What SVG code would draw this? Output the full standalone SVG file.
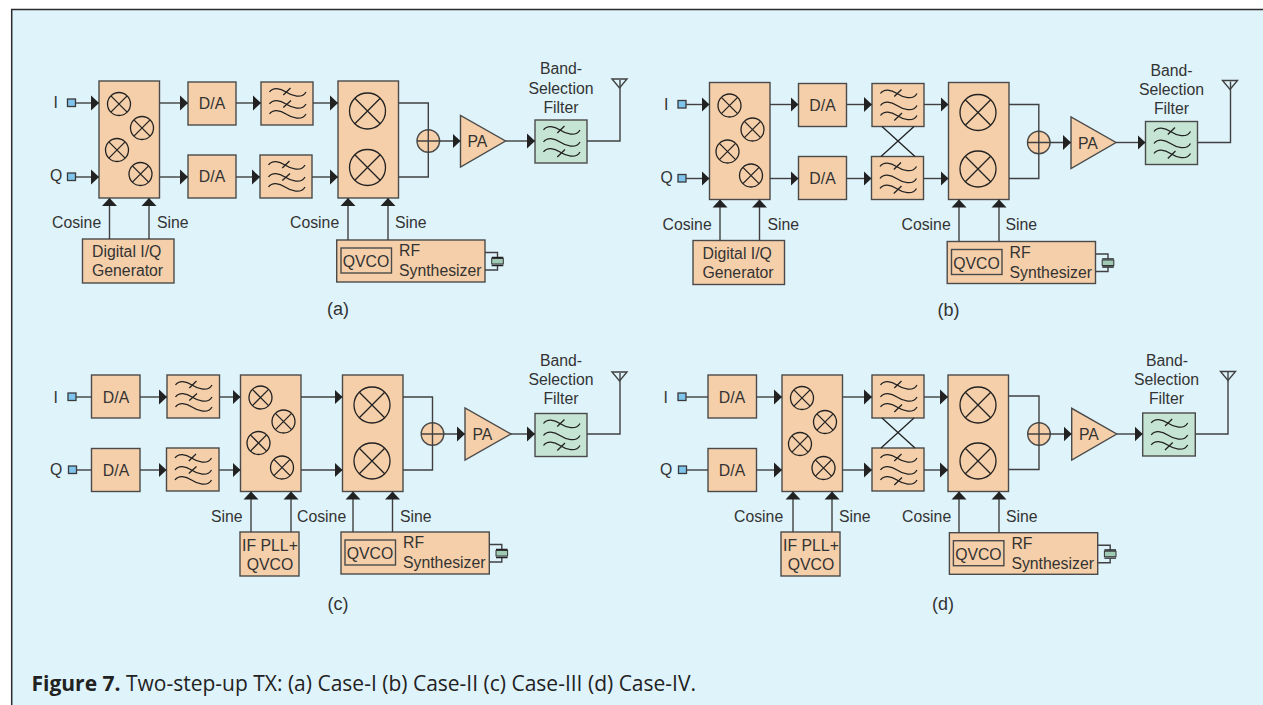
<svg xmlns="http://www.w3.org/2000/svg" width="1263" height="705" viewBox="0 0 1263 705">
<style>
text{font-family:"Liberation Sans",Arial,sans-serif;font-size:15.8px;fill:#333}
.m{text-anchor:middle}
.pl{font-size:18px}
.box{fill:#f5cfa9;stroke:#4a4a4a;stroke-width:1.4}
.grn{fill:#c6e4d3;stroke:#4a4a4a;stroke-width:1.4}
.sq{fill:#7fc4ec;stroke:#3a3a3a;stroke-width:1.3}
.ln{fill:none;stroke:#222;stroke-width:1.3}
.cn{fill:none;stroke:#404040;stroke-width:1.4}
.ar{marker-end:url(#h)}
.cap{font-family:"Open Sans","Liberation Sans",sans-serif;font-size:21px;fill:#222}
</style>
<defs>
<marker id="h" markerUnits="userSpaceOnUse" markerWidth="9" markerHeight="16" refX="8" refY="8" orient="auto"><path d="M0,0.5 L8,8 L0,15.5 Z" fill="#222"/></marker>
<g id="mx"><circle class="ln" r="11.5"/><path class="ln" d="M-8.1,-8.1 L8.1,8.1 M-8.1,8.1 L8.1,-8.1"/></g>
<g id="MX"><circle class="ln" r="18"/><path class="ln" d="M-12.7,-12.7 L12.7,12.7 M-12.7,12.7 L12.7,-12.7"/></g>
<g id="waves"><path class="ln" d="M8.5,10 C12,5 19,6 25,10 C31,14 41,17 45,10 M8.5,22 C12,17 19,18 25,22 C31,26 41,29 45,22 M8.5,32 C12,27 19,28 25,32 C31,36 41,39 45,32"/></g>
<g id="f12"><use href="#waves"/><path class="ln" d="M22.3,13 L29.5,6 M22.3,25.5 L30,18.5"/></g>
<g id="f13"><use href="#waves"/><path class="ln" d="M22.3,13 L29.5,6 M22.3,37 L30,29.5"/></g>
<g id="xt"><path class="cn" d="M0,12.5 H12.5 V17 M0,30 H12.5 V26"/><rect x="6.7" y="18.5" width="11.6" height="5.5" fill="#9fcbb5" stroke="#333" stroke-width="1"/><path class="ln" d="M6.7,17.3 H18.3 M6.7,25.5 H18.3"/></g>
<g id="ant"><path class="cn" d="M0,0 H15 L7.5,9 Z"/></g>
<g id="sum"><circle class="box" r="11.3"/></g>
</defs>

<rect x="12" y="10" width="1251" height="695" fill="#dff3fb"/>
<path d="M11.7,705 V9.6 H1263" fill="none" stroke="#2b2b2b" stroke-width="1.5"/>

<g id="panel-a">
<g id="a-in-i"><rect class="sq" x="67.5" y="99" width="8" height="7.5"/><text x="53.5" y="108">I</text></g>
<g id="a-in-q"><rect class="sq" x="67.5" y="173" width="8" height="7.5"/><text x="50" y="181">Q</text></g>
<g id="a-dig-mixer"><rect class="box" x="99" y="81" width="60.5" height="117"/><use href="#mx" x="119" y="104"/><use href="#mx" x="142" y="128"/><use href="#mx" x="117" y="150"/><use href="#mx" x="140.5" y="174"/></g>
<g id="a-da1"><rect class="box" x="188" y="82" width="48" height="43"/><text class="m" x="212" y="109">D/A</text></g>
<g id="a-da2"><rect class="box" x="188" y="155" width="48" height="43"/><text class="m" x="212" y="182">D/A</text></g>
<g id="a-f1" transform="translate(261,82)"><rect class="box" width="52" height="43"/><use href="#f12"/></g>
<g id="a-f2" transform="translate(260,155)"><rect class="box" width="52" height="43"/><use href="#f12"/></g>
<g id="a-rf-mixer"><rect class="box" x="338" y="81" width="60.5" height="117"/><use href="#MX" x="367.5" y="111"/><use href="#MX" x="367.5" y="167.5"/></g>
<g id="a-sum"><use href="#sum" x="428.3" y="141"/></g>
<g id="a-pa"><path class="box" d="M460.5,115.5 V167 L505.5,141 Z"/><text x="467.5" y="147">PA</text></g>
<g id="a-bsf" transform="translate(535,120)"><rect class="grn" width="52" height="43"/><use href="#f13"/></g>
<g id="a-bsf-label"><text class="m" x="561" y="74">Band-</text><text class="m" x="561" y="93.5">Selection</text><text class="m" x="561" y="112.5">Filter</text></g>
<g id="a-ant"><use href="#ant" x="612" y="79"/></g>
<g id="a-gen"><rect class="box" x="82.5" y="239" width="91.5" height="44"/><text x="92" y="257">Digital I/Q</text><text x="92" y="276">Generator</text></g>
<g id="a-rf"><rect class="box" x="336.7" y="240" width="148.3" height="42"/><rect class="box" x="341" y="248" width="50.5" height="25"/><text class="m" x="366" y="267">QVCO</text><text x="399" y="256">RF</text><text x="399" y="276">Synthesizer</text><use href="#xt" x="485" y="240"/></g>
<g id="a-labels"><text x="52" y="228">Cosine</text><text x="157" y="228">Sine</text><text x="290" y="228">Cosine</text><text x="395" y="228">Sine</text><text class="m pl" x="338" y="315">(a)</text></g>
</g>

<g id="panel-b" transform="translate(610.5,1.5)">
<g id="b-in-i"><rect class="sq" x="67.5" y="99" width="8" height="7.5"/><text x="53.5" y="108">I</text></g>
<g id="b-in-q"><rect class="sq" x="67.5" y="173" width="8" height="7.5"/><text x="50" y="181">Q</text></g>
<g id="b-dig-mixer"><rect class="box" x="99" y="81" width="60.5" height="117"/><use href="#mx" x="119" y="104"/><use href="#mx" x="142" y="128"/><use href="#mx" x="117" y="150"/><use href="#mx" x="140.5" y="174"/></g>
<g id="b-da1"><rect class="box" x="188" y="82" width="48" height="43"/><text class="m" x="212" y="109">D/A</text></g>
<g id="b-da2"><rect class="box" x="188" y="155" width="48" height="43"/><text class="m" x="212" y="182">D/A</text></g>
<g id="b-f1" transform="translate(261.5,82)"><rect class="box" width="52" height="43"/><use href="#f13"/></g>
<g id="b-f2" transform="translate(261,155)"><rect class="box" width="52" height="43"/><use href="#f13"/></g>
<g id="b-rf-mixer"><rect class="box" x="338" y="81" width="60.5" height="117"/><use href="#MX" x="367.5" y="111"/><use href="#MX" x="367.5" y="167.5"/></g>
<g id="b-sum"><use href="#sum" x="428.3" y="141"/></g>
<g id="b-pa"><path class="box" d="M460.5,115.5 V167 L505.5,141 Z"/><text x="467.5" y="147">PA</text></g>
<g id="b-bsf" transform="translate(535,120)"><rect class="grn" width="52" height="43"/><use href="#f13"/></g>
<g id="b-bsf-label"><text class="m" x="561" y="74">Band-</text><text class="m" x="561" y="93.5">Selection</text><text class="m" x="561" y="112.5">Filter</text></g>
<g id="b-ant"><use href="#ant" x="612" y="79"/></g>
<g id="b-gen"><rect class="box" x="82.5" y="239" width="91.5" height="44"/><text x="92" y="257">Digital I/Q</text><text x="92" y="276">Generator</text></g>
<g id="b-rf"><rect class="box" x="336.7" y="240" width="148.3" height="42"/><rect class="box" x="341" y="248" width="50.5" height="25"/><text class="m" x="366" y="267">QVCO</text><text x="399" y="256">RF</text><text x="399" y="276">Synthesizer</text><use href="#xt" x="485" y="240"/></g>
<g id="b-labels"><text x="52" y="228">Cosine</text><text x="157" y="228">Sine</text><text x="291" y="228">Cosine</text><text x="395" y="228">Sine</text><text class="m pl" x="338" y="314.5">(b)</text></g>
</g>

<g id="panel-c">
<g id="c-in-i"><rect class="sq" x="68" y="393" width="8" height="7.5"/><text x="53.5" y="403">I</text></g>
<g id="c-in-q"><rect class="sq" x="68.5" y="466" width="8" height="7.5"/><text x="50" y="475">Q</text></g>
<g id="c-da1"><rect class="box" x="91.5" y="375" width="48.5" height="43"/><text class="m" x="116" y="403">D/A</text></g>
<g id="c-da2"><rect class="box" x="91.5" y="448.5" width="48.5" height="43"/><text class="m" x="116" y="476">D/A</text></g>
<g id="c-f1" transform="translate(167,375)"><rect class="box" width="52.5" height="43"/><use href="#f12"/></g>
<g id="c-f2" transform="translate(166.5,448)"><rect class="box" width="52.5" height="43"/><use href="#f12"/></g>
<g id="c-if-mixer"><rect class="box" x="240.5" y="375" width="60.5" height="116.5"/><use href="#mx" x="260.5" y="397.5"/><use href="#mx" x="283.5" y="421.5"/><use href="#mx" x="258.5" y="443"/><use href="#mx" x="282" y="467.5"/></g>
<g id="c-rf-mixer"><rect class="box" x="342.5" y="375" width="60.5" height="116.5"/><use href="#MX" x="372" y="405"/><use href="#MX" x="372" y="461"/></g>
<g id="c-sum"><use href="#sum" x="432.5" y="434"/></g>
<g id="c-pa"><path class="box" d="M465,408 V460 L511,434 Z"/><text x="472.5" y="440">PA</text></g>
<g id="c-bsf" transform="translate(535,413.5)"><rect class="grn" width="52" height="43"/><use href="#f13"/></g>
<g id="c-bsf-label"><text class="m" x="561" y="366">Band-</text><text class="m" x="561" y="385">Selection</text><text class="m" x="561" y="404">Filter</text></g>
<g id="c-ant"><use href="#ant" x="612" y="372"/></g>
<g id="c-if"><rect class="box" x="240" y="532" width="59" height="44"/><text class="m" x="270" y="551">IF PLL+</text><text class="m" x="270" y="570">QVCO</text></g>
<g id="c-rf"><rect class="box" x="341" y="532" width="148.3" height="42"/><rect class="box" x="345" y="540" width="50.5" height="25"/><text class="m" x="370" y="559">QVCO</text><text x="403" y="548">RF</text><text x="403" y="568">Synthesizer</text><use href="#xt" x="489.3" y="532"/></g>
<g id="c-labels"><text x="211" y="522">Sine</text><text x="297" y="522">Cosine</text><text x="400" y="522">Sine</text><text class="m pl" x="338" y="610">(c)</text></g>
</g>

<g id="panel-d">
<g id="d-in-i"><rect class="sq" x="678" y="393" width="8" height="7.5"/><text x="663.5" y="403">I</text></g>
<g id="d-in-q"><rect class="sq" x="678.5" y="466" width="8" height="7.5"/><text x="660" y="475">Q</text></g>
<g id="d-da1"><rect class="box" x="708" y="375" width="48.5" height="43"/><text class="m" x="732" y="403">D/A</text></g>
<g id="d-da2"><rect class="box" x="708" y="448.5" width="48.5" height="43"/><text class="m" x="732" y="476">D/A</text></g>
<g id="d-if-mixer"><rect class="box" x="782" y="375" width="60.5" height="116.5"/><use href="#mx" x="802" y="398"/><use href="#mx" x="825" y="422"/><use href="#mx" x="800" y="444"/><use href="#mx" x="823.5" y="468"/></g>
<g id="d-f1" transform="translate(872,375)"><rect class="box" width="52" height="43"/><use href="#f13"/></g>
<g id="d-f2" transform="translate(872,448)"><rect class="box" width="52" height="43"/><use href="#f13"/></g>
<g id="d-rf-mixer"><rect class="box" x="948" y="375" width="60.5" height="116.5"/><use href="#MX" x="978" y="405"/><use href="#MX" x="978" y="461"/></g>
<g id="d-sum"><use href="#sum" x="1039" y="434"/></g>
<g id="d-pa"><path class="box" d="M1071.7,408.3 V460 L1116.7,434 Z"/><text x="1079" y="440">PA</text></g>
<g id="d-bsf" transform="translate(1142.7,413)"><rect class="grn" width="52.6" height="43"/><use href="#f13"/></g>
<g id="d-bsf-label"><text class="m" x="1167" y="366">Band-</text><text class="m" x="1166.5" y="385">Selection</text><text class="m" x="1166.5" y="404">Filter</text></g>
<g id="d-ant"><use href="#ant" x="1220.5" y="371.5"/></g>
<g id="d-if"><rect class="box" x="781" y="532" width="59" height="44"/><text class="m" x="811" y="551">IF PLL+</text><text class="m" x="811" y="570">QVCO</text></g>
<g id="d-rf"><rect class="box" x="949.4" y="532.7" width="148.3" height="41.6"/><rect class="box" x="953.4" y="540.7" width="50.5" height="25"/><text class="m" x="978.4" y="559.7">QVCO</text><text x="1011.4" y="548.7">RF</text><text x="1011.4" y="568.7">Synthesizer</text><use href="#xt" x="1097.7" y="532.7"/></g>
<g id="d-labels"><text x="734" y="522">Cosine</text><text x="839" y="522">Sine</text><text x="902" y="522">Cosine</text><text x="1006" y="522">Sine</text><text class="m pl" x="943" y="610">(d)</text></g>
</g>

<g id="connectors">
<g id="conn-a" class="cn">
<path class="cn ar" d="M75.5,103 H99"/><path class="cn ar" d="M75.5,177 H99"/>
<path class="cn ar" d="M159.5,103 H188"/><path class="cn ar" d="M159.5,177 H188"/>
<path class="cn ar" d="M236,103 H261"/><path class="cn ar" d="M236,177 H260"/>
<path class="cn ar" d="M313,103 H338"/><path class="cn ar" d="M312,177 H338"/>
<path class="cn" d="M398.5,103 H428.3 V177 H398.5"/>
<path class="cn ar" d="M417,141 H460.5"/><path class="cn ar" d="M505.5,141 H535"/>
<path class="cn" d="M587,141 H620 V80"/>
<path class="cn ar" d="M109.5,239 V198"/><path class="cn ar" d="M149,239 V198"/>
<path class="cn ar" d="M348,240 V198"/><path class="cn ar" d="M388,240 V198"/>
</g>
<g id="conn-b" class="cn" transform="translate(610.5,1.5)">
<path class="cn ar" d="M75.5,103 H99"/><path class="cn ar" d="M75.5,177 H99"/>
<path class="cn ar" d="M159.5,103 H188"/><path class="cn ar" d="M159.5,177 H188"/>
<path class="cn ar" d="M236,103 H261.5"/><path class="cn ar" d="M236,177 H261"/>
<path class="cn ar" d="M313.5,103 H338"/><path class="cn ar" d="M313,177 H338"/>
<path class="ln" d="M271.5,125 L304.5,155 M303.5,125 L270.5,155"/>
<path class="cn" d="M398.5,103 H428.3 V177 H398.5"/>
<path class="cn ar" d="M417,141 H460.5"/><path class="cn ar" d="M505.5,141 H535"/>
<path class="cn" d="M587,141 H620 V80"/>
<path class="cn ar" d="M109.5,239 V198"/><path class="cn ar" d="M149,239 V198"/>
<path class="cn ar" d="M348.5,240 V198"/><path class="cn ar" d="M388.5,240 V198"/>
</g>
<g id="conn-c" class="cn">
<path class="cn" d="M76,397 H91.5"/><path class="cn" d="M76.5,470 H91.5"/>
<path class="cn ar" d="M140,397 H167"/><path class="cn ar" d="M140,470 H166.5"/>
<path class="cn ar" d="M219.5,397 H240.5"/><path class="cn ar" d="M219,470 H240.5"/>
<path class="cn ar" d="M301,397 H342.5"/><path class="cn ar" d="M301,470 H342.5"/>
<path class="cn" d="M403,397 H432.5 V470 H403"/>
<path class="cn ar" d="M421,434 H465"/><path class="cn ar" d="M511,434 H535"/>
<path class="cn" d="M587,434 H620 V373"/>
<path class="cn ar" d="M251,532 V491.5"/><path class="cn ar" d="M291,532 V491.5"/>
<path class="cn ar" d="M353,532 V491.5"/><path class="cn ar" d="M392.5,532 V491.5"/>
</g>
<g id="conn-d" class="cn">
<path class="cn" d="M686,397 H708"/><path class="cn" d="M686.5,470 H708"/>
<path class="cn ar" d="M756.5,397 H782"/><path class="cn ar" d="M756.5,470 H782"/>
<path class="cn ar" d="M842.5,397 H872"/><path class="cn ar" d="M842.5,470 H872"/>
<path class="cn ar" d="M924,397 H948"/><path class="cn ar" d="M924,470 H948"/>
<path class="ln" d="M882,418 L915,448 M914,418 L881,448"/>
<path class="cn" d="M1008.5,396 H1039 V469.5 H1008.5"/>
<path class="cn ar" d="M1027.7,434 H1071.7"/><path class="cn ar" d="M1116.7,434 H1142.7"/>
<path class="cn" d="M1195.3,434 H1228 V372"/>
<path class="cn ar" d="M793,532 V491.5"/><path class="cn ar" d="M832,532 V491.5"/>
<path class="cn ar" d="M959,533 V491.5"/><path class="cn ar" d="M999,533 V491.5"/>
</g>
</g>

<g id="caption"><text class="cap" x="31.5" y="691"><tspan font-weight="700">Figure 7.</tspan> Two-step-up TX: (a) Case-I (b) Case-II (c) Case-III (d) Case-IV.</text></g>
</svg>
